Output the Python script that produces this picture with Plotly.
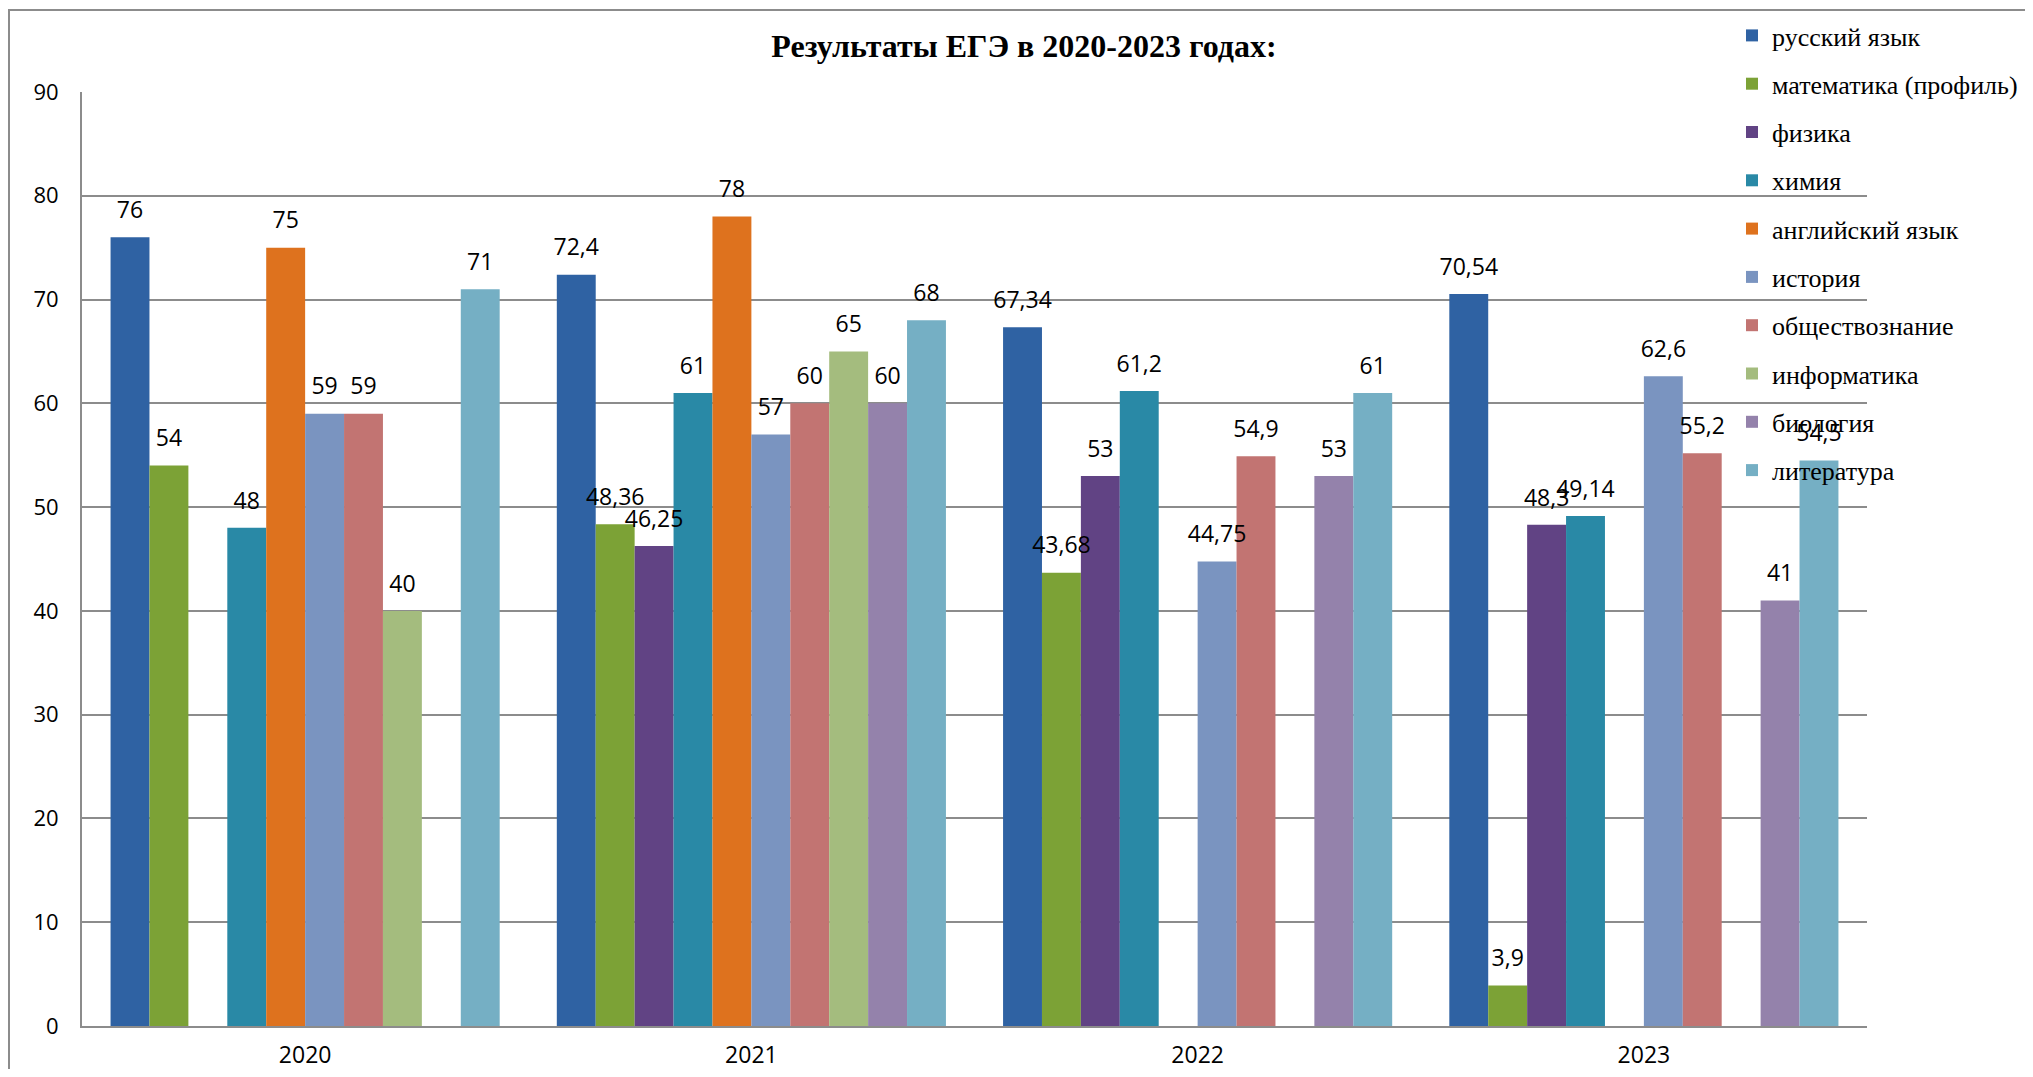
import plotly.graph_objects as go

years = ["2020", "2021", "2022", "2023"]

subjects = ["русский язык", "математика (профиль)", "физика", "химия",
            "английский язык", "история", "обществознание", "информатика",
            "биология", "литература"]

russian = [76, 72.4, 67.34, 70.54]
math_profile = [54, 48.36, 43.68, 3.9]
physics = [None, 46.25, 53, 48.3]
chemistry = [48, 61, 61.2, 49.14]
english = [75, 78, None, None]
history = [59, 57, 44.75, 62.6]
social = [59, 60, 54.9, 55.2]
informatics = [40, 65, None, None]
biology = [None, 60, 53, 41]
literature = [71, 68, 61, 54.5]

series = [russian, math_profile, physics, chemistry, english, history,
          social, informatics, biology, literature]

colors = ["#2F62A3", "#7CA236", "#614384", "#2989A6", "#DE721E",
          "#7A94C0", "#C27472", "#A4BC7E", "#9482AB", "#75AFC4"]

y_ticks = list(range(0, 91, 10))


def fmt(v):
    if v is None:
        return ""
    return ("%g" % v).replace(".", ",")


SANS = "Open Sans, Liberation Sans, Arial, sans-serif"
SERIF = "Liberation Serif, Times New Roman, serif"

fig = go.Figure()
for name, vals, col in zip(subjects, series, colors):
    fig.add_trace(go.Bar(
        x=years, y=vals, name=name, legendgroup=name,
        marker=dict(color=col, line=dict(width=0)),
    ))
for name, vals, col in zip(subjects, series, colors):
    fig.add_trace(go.Scatter(
        x=years, y=vals, mode="markers+text", legendgroup=name,
        showlegend=False, hoverinfo="skip",
        marker=dict(size=20, opacity=0, color=col),
        text=[fmt(v) for v in vals], textposition="top center",
        textfont=dict(family=SANS, size=23, color="#000000"),
        cliponaxis=False,
    ))

# the page body adds an 8px margin; figure is sized to fit the window exactly
OFF = 8
W, H = 2033 - 2 * OFF, 1077 - 2 * OFF
L = 82 - OFF
T = 92 - OFF
R = W - (1867 - OFF)
B = H - (1026 - OFF)
pw, ph = W - L - R, H - T - B


def px_x(p):
    # p: screen pixel x
    return (p - OFF - L) / pw


def px_y(p):
    # p: screen pixel y
    return (H - B - (p - OFF)) / ph


fig.update_layout(
    width=W, height=H,
    margin=dict(l=L, r=R, t=T, b=B, pad=0, autoexpand=False),
    paper_bgcolor="white", plot_bgcolor="white",
    barmode="group", bargap=0.128, bargroupgap=0,
    scattermode="group", scattergap=0.128,
    title=dict(text="<b>Результаты ЕГЭ в 2020-2023 годах:</b>",
               x=(1024 - OFF) / W, xref="container", xanchor="center",
               y=1 - 38 / H, yref="container", yanchor="middle",
               font=dict(family=SERIF, size=32, color="#000000")),
    legend=dict(x=px_x(1732), xanchor="left", y=px_y(12), yanchor="top",
                font=dict(family=SERIF, size=26, color="#000000"),
                bgcolor="rgba(0,0,0,0)", tracegroupgap=11.5, itemwidth=30,
                traceorder="grouped"),
    showlegend=True,
    xaxis=dict(type="category", showgrid=False, showline=True, linecolor="#8c8c8c",
               linewidth=2, ticks="", ticklabelstandoff=7,
               tickfont=dict(family=SANS, size=23, color="#000000")),
    yaxis=dict(range=[0, 90], tickvals=y_ticks, showgrid=True, gridcolor="#8c8c8c",
               gridwidth=2, showline=True, linecolor="#8c8c8c", linewidth=2,
               zeroline=False, ticks="", ticklabelstandoff=17,
               tickfont=dict(family=SANS, size=22, color="#000000")),
    shapes=[dict(type="rect", xref="paper", yref="paper",
                 x0=px_x(9), x1=px_x(2060), y0=px_y(1100), y1=px_y(10),
                 line=dict(color="#8c8c8c", width=2), layer="below")],
)

fig.write_html("out.html")
